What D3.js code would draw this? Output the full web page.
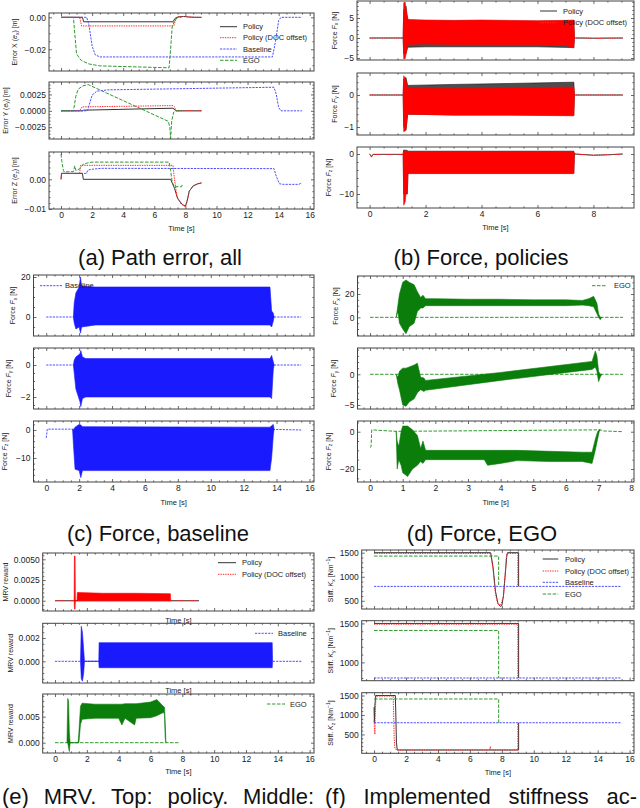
<!DOCTYPE html>
<html><head><meta charset="utf-8">
<script src="https://cdn.jsdelivr.net/npm/d3@7"></script>
<style>body{margin:0;background:#fff}</style>
</head><body>
<script>
// ================= DATA =================
const timeTicks16 = [0,2,4,6,8,10,12,14,16];
const timeTicks9 = [0,2,4,6,8];
const timeTicks8 = [0,1,2,3,4,5,6,7,8];
const legendLabels = {pol:"Policy", doc:"Policy (DOC offset)", base:"Baseline", ego:"EGO"};

// (a) path error  [t, value]
const aXPolicy = [[0,0],[1.38,0],[1.45,-0.0028],[7.2,-0.0028],[7.35,-0.0005],[7.45,0],[7.6,0.0004],[7.9,0.0005],[8.2,0.0002],[8.6,0],[9.05,0]];
const aXDoc = [[0,0],[1.2,0],[1.32,-0.0054],[7.25,-0.0054],[7.4,-0.001],[7.5,0],[7.7,0.0005],[8.0,0.0005],[8.4,0.0001],[9.05,0]];
const aXBase = [[0,0],[1.65,0],[1.8,-0.005],[2.0,-0.018],[2.2,-0.0235],[2.5,-0.0248],[13.6,-0.0248],[13.8,-0.015],[14.0,-0.002],[14.15,0],[15.5,0]];
const aXEgo = [[0,0],[0.8,0],[0.88,-0.01],[1.0,-0.023],[1.3,-0.027],[1.8,-0.0292],[2.5,-0.0304],[6.95,-0.0316],[7.05,-0.02],[7.15,-0.006],[7.3,-0.002],[7.5,-0.0003],[7.75,0]];

const aYPolicy = [[0,0],[1.4,0],[1.45,0.0001],[7.2,0.0004],[7.35,0.0001],[7.45,0],[9.05,0]];
const aYDoc = [[0,0],[1.2,0],[1.35,0.0006],[7.2,0.0008],[7.3,0.0006],[7.4,0],[9.05,0]];
const aYBase = [[0,0],[1.7,0],[1.85,0.0012],[2.0,0.0024],[2.3,0.003],[3,0.0032],[13.7,0.0036],[13.85,0.0025],[14.0,0.0005],[14.15,0],[15.5,0]];
const aYEgo = [[0,0],[0.8,0],[0.95,0.0022],[1.1,0.0033],[1.4,0.0038],[1.75,0.004],[6.9,-0.0016],[7.0,-0.0025],[7.05,-0.0042],[7.12,-0.0015],[7.25,-0.0002],[7.4,0],[7.75,0]];

const aZPolicy = [[0,0],[0.03,0.002],[1.38,0.002],[1.43,0],[7.05,0],[7.3,-0.003],[7.5,-0.0065],[7.8,-0.0085],[8.0,-0.009],[8.1,-0.0075],[8.25,-0.004],[8.5,-0.0022],[8.8,-0.0015],[9.05,-0.0012]];
const aZDoc = [[0,0],[0.03,0.002],[1.2,0.002],[1.25,0.0047],[7.2,0.0047],[7.3,0.0],[7.45,-0.0055],[7.7,-0.0082],[8.0,-0.0092],[8.1,-0.0078],[8.25,-0.004],[8.5,-0.0022],[8.8,-0.0015],[9.05,-0.0012]];
const aZBase = [[0,0.002],[1.65,0.002],[1.7,0.0029],[1.8,0.0032],[2.0,0.0034],[2.6,0.0037],[13.7,0.0036],[13.85,0.001],[14.05,-0.0015],[14.3,-0.0017],[15.3,-0.0017],[15.5,-0.0012]];
const aZEgo = [[0,0.0085],[0.05,0.006],[0.15,0.003],[0.2,0.0025],[0.8,0.0026],[0.88,0.0045],[0.95,0.003],[1.2,0.0035],[1.4,0.005],[1.7,0.0055],[2.0,0.0058],[6.95,0.0058],[7.05,0.003],[7.15,-0.001],[7.3,-0.0025],[7.75,-0.0025],[7.8,-0.0018]];

// (b) force, policies: lines [t,v], bands [t,lo,hi]
const bFxPolicyLine = [[0,0],[1.2,0],[7.32,0],[8,-0.05],[9.05,0]];
const bFxDocLine = [[0,0],[1.2,0],[7.32,0],[7.6,0.05],[8,-0.1],[9.05,0]];
const bFxPolicyBand = [[1.2,0,0],[1.22,-4,7],[1.3,-4,8],[1.36,-2.3,4.5],[2,-2.2,4.3],[4,-2.2,4.3],[6,-2.2,4.2],[7.3,-2.4,4.3],[7.32,0,0]];
const bFxDocBand = [[1.2,0,0],[1.22,-5.2,8.8],[1.27,-5.2,9],[1.33,-3,6],[1.38,-1.6,4.6],[2,-1.5,4.5],[3,-1.6,4.4],[4,-1.6,4.5],[5,-1.7,4.4],[6,-1.7,4.3],[7,-1.8,4.4],[7.3,-2.5,4.5],[7.32,0,0]];
const bFyPolicyLine = [[0,0],[1.2,0],[7.32,0],[9.05,0]];
const bFyDocLine = [[0,0],[1.2,0],[7.32,0],[9.05,0]];
const bFyPolicyBand = [[1.2,0,0],[1.22,-1.0,0.5],[1.3,-1.1,0.55],[1.36,-0.6,0.3],[3,-0.62,0.33],[5,-0.62,0.36],[7.3,-0.63,0.4],[7.32,0,0]];
const bFyDocBand = [[1.2,0,0],[1.22,-1.15,0.6],[1.3,-1.1,0.45],[1.36,-0.6,0.22],[3,-0.63,0.2],[5,-0.63,0.22],[7.3,-0.65,0.25],[7.32,0,0]];
const bFzPolicyLine = [[0,0],[0.03,-0.2],[0.07,-0.7],[0.12,-0.1],[1.2,-0.1],[7.32,0],[8,-0.3],[8.5,-0.2],[9.05,0]];
const bFzDocLine = [[0,0],[0.03,-0.3],[0.07,-0.8],[0.12,-0.1],[1.2,-0.1],[7.32,0],[8,-0.3],[8.5,-0.2],[9.05,0]];
const bFzPolicyBand = [[1.2,0,0],[1.22,-10,1],[1.35,-10,0.9],[1.37,-4.8,0.7],[7.3,-4.8,0.7],[7.32,0,0]];
const bFzDocBand = [[1.2,0,0],[1.22,-12.8,1],[1.27,-12,0.5],[1.3,-10,0.5],[1.35,-9,0.5],[1.37,-4.9,0.5],[7.3,-4.9,0.5],[7.32,0,0]];

// (c) force, baseline
const cFxLine = [[0,0],[1.65,0],[13.85,0],[15.5,0]];
const cFxBand = [[1.65,0,0],[1.7,-3,7],[1.8,-6,12],[2.0,-5,15],[2.08,-8,20],[2.15,-5,15.5],[3,-4,15],[13.6,-4,15],[13.7,-5,3],[13.8,-2,2],[13.85,0,0]];
const cFyLine = [[0,0],[1.65,0],[13.85,0],[15.5,0]];
const cFyBand = [[1.65,0,0],[1.7,-0.5,0.3],[1.8,-1.5,0.5],[2.05,-2.3,0.7],[2.1,-2.6,0.9],[2.2,-2.1,0.5],[2.4,-2.0,0.4],[13.6,-2.0,0.4],[13.7,-2.1,0.6],[13.8,-0.3,0.2],[13.85,0,0]];
const cFzLine = [[0,-2.8],[0.04,-1],[0.06,0.3],[1.6,0.3],[13.9,0.2],[15.5,0]];
const cFzBand = [[1.6,0.3,0.3],[1.65,-5,0],[1.75,-14,1],[2.0,-14.5,2],[2.1,-17,1.8],[2.2,-14.5,1.2],[13.6,-14.5,1.0],[13.7,-10,1.5],[13.8,-2,2],[13.85,0.3,0.3]];

// (d) force, EGO
const dFxLine = [[0,0],[0.8,0],[7.1,0],[7.75,0]];
const dFxBand = [[0.8,0,0],[0.85,5,10],[0.9,-5,20],[1.0,-10,30],[1.1,-14,32],[1.2,-8,30],[1.35,-5,28],[1.45,5,22],[1.55,8,17],[1.62,8,19],[1.7,10,16],[2,10,16],[3,10,15.5],[4,10,15.5],[5,10,15],[6,10,15],[6.5,10.5,14.5],[6.7,10,16],[6.85,9,18],[6.95,3,12],[7.0,0,3],[7.05,-2,0],[7.1,0,0]];
const dFyLine = [[0,0],[0.8,0],[7.1,0],[7.75,0]];
const dFyBand = [[0.8,0,0],[0.85,-1.5,-0.5],[0.9,-2.5,0.5],[1.0,-5,1],[1.1,-5.2,1],[1.2,-4.5,1.2],[1.35,-4,1.5],[1.45,-3,1.8],[1.55,-2.5,-0.5],[1.65,-2.8,-0.6],[1.7,-2.6,-1.0],[4.0,-1.0,0.3],[6.8,0.8,2.1],[6.9,1.2,3.8],[6.95,0.5,3.0],[7.0,-1.2,0.5],[7.05,-0.5,0],[7.1,0,0]];
const dFzLine = [[0,-8.5],[0.03,-8],[0.05,1],[0.4,0.6],[0.8,0.2],[7.05,1],[7.15,0.4],[7.75,0]];
const dFzBand = [[0.8,0.2,0.2],[0.83,-20,-5],[0.88,-15,-8],[0.95,-18,0],[1.0,-22,3],[1.15,-24,3],[1.3,-20,1],[1.45,-18,-2],[1.55,-16,-9],[1.62,-17,-5],[1.7,-15,-10],[3.5,-15,-10],[3.6,-18,-10],[4.0,-17,-10],[4.5,-15.5,-10],[5.5,-16,-10.5],[6.5,-16,-11],[6.8,-17,-11],[6.9,-10,-4],[6.97,-4,0],[7.02,0,1],[7.05,1,1]];

// (e) MRV reward
const eTopPolicyLine = [[0,0],[9.05,0]];
const eTopDocLine = [[0,0],[9.0,0]];
const eTopDocBand = [[1.2,0,0],[1.22,-0.001,0.0054],[1.26,-0.001,0.0054],[1.28,0,0],[1.38,0,0],[1.4,0,0.001],[3,0,0.0009],[5,0,0.0009],[7.25,0,0.00085],[7.27,0,0]];
const eMidBaseLine = [[0,0],[15.5,0]];
const eMidBaseBand = [[1.6,0,0],[1.65,-0.0015,0.003],[1.72,-0.0017,0.0025],[1.8,-0.001,0.001],[1.85,0,0],[2.75,0,0],[2.77,-0.00055,0.0016],[13.65,-0.00055,0.0016],[13.67,0,0]];
const eBotEgoLine = [[0,0],[7.8,0]];
const eBotEgoBand = [[0.75,0,0],[0.8,0,0.0085],[0.85,-0.001,0.008],[0.9,-0.0017,0.002],[0.95,0,0],[1.45,0,0],[1.5,0,0.002],[1.6,0.0035,0.007],[1.7,0.0045,0.0076],[2.5,0.0047,0.0074],[4,0.0047,0.0074],[4.2,0.0034,0.0074],[4.4,0.0047,0.0075],[5.0,0.0034,0.0075],[5.1,0.0047,0.0075],[6.0,0.0048,0.0078],[6.4,0.0052,0.0083],[6.8,0.0058,0.007],[6.88,0.0055,0.0068],[6.92,0.001,0.004],[6.97,0,0]];

// (f) stiffness
const fKxPolicy = [[0,1500],[7.3,1500],[7.45,1200],[7.6,700],[7.75,450],[7.9,385],[8.0,400],[8.1,600],[8.2,1000],[8.3,1400],[8.35,1500],[9.05,1500],[9.05,800]];
const fKxDoc = [[0,1485],[7.3,1485],[7.45,1150],[7.6,650],[7.75,430],[7.95,420],[8.1,600],[8.2,1000],[8.28,1400],[8.32,1485],[9.0,1485],[9.0,800]];
const fKxBase = [[0,800],[15.5,800]];
const fKxEgo = [[0,1430],[7.8,1430],[7.8,800]];
const fKyPolicy = [[0,1500],[9.05,1500],[9.05,800]];
const fKyDoc = [[0,1490],[9.0,1490],[9.0,800]];
const fKyBase = [[0,800],[15.5,800]];
const fKyEgo = [[0,1410],[7.8,1410],[7.8,800]];
const fKzPolicy = [[0,1200],[0.02,800],[0.05,1250],[0.1,1500],[1.33,1500],[1.36,1050],[1.4,300],[1.45,100],[9.05,100],[9.05,800]];
const fKzDoc = [[0,850],[0.02,700],[0.05,500],[0.08,1100],[0.12,1485],[1.2,1485],[1.26,400],[1.3,150],[1.35,130],[1.4,100],[7.25,100],[7.28,190],[7.32,100],[9.0,100],[9.0,800]];
const fKzBase = [[0,800],[15.5,800]];
const fKzEgo = [[0,1410],[7.8,1410],[7.8,800]];

// tick values
const aXTicks=[-0.02,0], aYTicks=[-0.0025,0,0.0025], aZTicks=[-0.01,0];
const bFxTicks=[-5,0,5], bFyTicks=[-1,0], bFzTicks=[-10,0];
const cFxTicks=[0,20], cFyTicks=[-2,0], cFzTicks=[-10,0];
const dFxTicks=[0,20], dFyTicks=[-5,0], dFzTicks=[-20,0];
const eTopTicks=[0,0.0025,0.005], eMidTicks=[0,0.002], eBotTicks=[0,0.005];
const fKxTicks=[500,1000,1500], fKyTicks=[1000,1500], fKzTicks=[500,1000,1500];

// ================= STYLE =================
const FONT = "'Liberation Sans', Arial, Helvetica, sans-serif";
const ST = {
  pol:  {color:"#333333", dash:null, band:"#111111", bandOp:0.75},
  doc:  {color:"#ff2a2a", dash:"1.4,1", band:"#ff0000", bandOp:1},
  base: {color:"#4d4dff", dash:"2.2,1.1", band:"#1a1aff", bandOp:1},
  ego:  {color:"#2e9a2e", dash:"3.5,1.5", band:"#0b7d0b", bandOp:1}
};
const FRAME = "#444";

const svg = d3.select("body").append("svg").attr("width",640).attr("height",808)
  .style("font-family", FONT);
let clipN = 0;

function minorTicks(major, dom) {
  const step = Math.abs(major[1]-major[0]);
  const e = Math.pow(10, Math.floor(Math.log10(step)+1e-9));
  const m = step/e;
  const nd = [1,2.5,5,10].some(v=>Math.abs(v-m)<1e-6) ? 5 : 4;
  const ms = step/nd;
  const lo = Math.min(...dom), hi = Math.max(...dom);
  const out = [];
  for (let k = Math.ceil(lo/ms-1e-9); k*ms <= hi+1e-12; k++) {
    const v = k*ms;
    if (!major.some(M=>Math.abs(M-v) < ms*1e-3)) out.push(v);
  }
  return out;
}
function majorAll(major, dom) {
  const step = Math.abs(major[1]-major[0]);
  const lo = Math.min(...dom), hi = Math.max(...dom);
  const out=[];
  for (let k=Math.ceil(lo/step-1e-9); k*step<=hi+1e-12; k++) out.push(k*step);
  return out;
}

function styleAxis(g) {
  g.select(".domain").remove();
  g.selectAll(".tick line").attr("stroke", FRAME).attr("stroke-width",0.8);
  g.selectAll(".tick text").attr("font-size",8.5).attr("fill","#222").attr("font-family",FONT);
}

function ylabel(parts, x, yc) {
  const t = svg.append("text").attr("transform",`translate(${x},${yc}) rotate(-90)`)
    .attr("text-anchor","middle").attr("font-size",7).attr("fill","#222");
  let shift = 0;
  parts.forEach(([s,st])=>{
    const ts = t.append("tspan").text(s);
    let target = 0;
    if (st==="i") ts.attr("font-style","italic");
    if (st==="sub") { ts.attr("font-size",5); target = 1.8; }
    if (st==="sup") { ts.attr("font-size",5); target = -3; }
    ts.attr("dy", target-shift); shift = target;
  });
}

function panel(p) {
  const x = d3.scaleLinear().domain(p.xd).range([p.l,p.r]);
  const y = d3.scaleLinear().domain(p.yd).range([p.b,p.t]);
  const id = "clip"+(clipN++);
  svg.append("clipPath").attr("id",id).append("rect")
    .attr("x",p.l).attr("y",p.t).attr("width",p.r-p.l).attr("height",p.b-p.t);
  const plot = svg.append("g").attr("clip-path",`url(#${id})`);
  const area = d3.area().x(d=>x(d[0])).y0(d=>y(d[1])).y1(d=>y(d[2]));
  const line = d3.line().x(d=>x(d[0])).y(d=>y(d[1]));
  p.series.forEach(s=>{
    const st = ST[s.k];
    if (s.line) plot.append("path").datum(s.line).attr("d",line).attr("fill","none")
      .attr("stroke",st.color).attr("stroke-width",1).attr("stroke-dasharray",st.dash);
    if (s.band) plot.append("path").datum(s.band).attr("d",area).attr("fill",st.band)
      .attr("fill-opacity",st.bandOp)
      .attr("stroke",st.band).attr("stroke-width",0.6).attr("stroke-linejoin","round");
  });
  // axes
  const xMaj = p.xt, xMin = minorTicks(p.xt, p.xd);
  const yMaj = majorAll(p.yt, p.yd), yMin = minorTicks(p.yt, p.yd);
  const g = svg.append("g");
  g.append("g").attr("transform",`translate(0,${p.b})`)
    .call(d3.axisBottom(x).tickValues(xMaj).tickSize(-3).tickPadding(3)
      .tickFormat(p.xlabels ? d3.format("d") : "")).call(styleAxis);
  g.append("g").attr("transform",`translate(0,${p.b})`)
    .call(d3.axisBottom(x).tickValues(xMin).tickSize(-1.6).tickFormat("")).call(styleAxis);
  g.append("g").attr("transform",`translate(0,${p.t})`)
    .call(d3.axisTop(x).tickValues(xMaj).tickSize(-3).tickFormat("")).call(styleAxis);
  g.append("g").attr("transform",`translate(0,${p.t})`)
    .call(d3.axisTop(x).tickValues(xMin).tickSize(-1.6).tickFormat("")).call(styleAxis);
  g.append("g").attr("transform",`translate(${p.l},0)`)
    .call(d3.axisLeft(y).tickValues(yMaj).tickSize(-3).tickPadding(3).tickFormat(d3.format(p.yf))).call(styleAxis);
  g.append("g").attr("transform",`translate(${p.l},0)`)
    .call(d3.axisLeft(y).tickValues(yMin).tickSize(-1.6).tickFormat("")).call(styleAxis);
  g.append("g").attr("transform",`translate(${p.r},0)`)
    .call(d3.axisRight(y).tickValues(yMaj).tickSize(-3).tickFormat("")).call(styleAxis);
  g.append("g").attr("transform",`translate(${p.r},0)`)
    .call(d3.axisRight(y).tickValues(yMin).tickSize(-1.6).tickFormat("")).call(styleAxis);
  g.append("rect").attr("x",p.l).attr("y",p.t).attr("width",p.r-p.l).attr("height",p.b-p.t)
    .attr("fill","none").attr("stroke",FRAME).attr("stroke-width",1);
  if (p.ylab) ylabel(p.ylab, p.ylx, (p.t+p.b)/2);
  if (p.timeY) svg.append("text").attr("x",(p.l+p.r)/2).attr("y",p.timeY).attr("text-anchor","middle")
    .attr("font-size",7.5).attr("fill","#222").text("Time [s]");
}

function legend(keys, x1, x2, tx, ys) {
  keys.forEach((k,i)=>{
    const st = ST[k];
    svg.append("line").attr("x1",x1).attr("x2",x2).attr("y1",ys[i]).attr("y2",ys[i])
      .attr("stroke",st.color).attr("stroke-width",1).attr("stroke-dasharray",st.dash);
    svg.append("text").attr("x",tx).attr("y",ys[i]).attr("dy","0.35em").attr("font-size",7.5)
      .attr("fill","#222").text(legendLabels[k]);
  });
}

const TD16 = [-0.775,16.275];
const labErr = c => [["Error "+c+" ("],["e","i"],[c.toLowerCase(),"sub"],[") [m]"]];
const labF = c => [["Force "],["F","i"],[c,"sub"],[" [N]"]];
const labK = c => [["Stiff. "],["K","i"],[c,"sub"],[" [Nm"],["−1","sup"],["]"]];

// ---- (a)
panel({l:49,r:314,t:13,b:71,xd:TD16,yd:[-0.0336,0.0027],xt:timeTicks16,yt:aXTicks,yf:".2f",ylab:labErr("X"),ylx:17,
  series:[{k:"pol",line:aXPolicy},{k:"doc",line:aXDoc},{k:"base",line:aXBase},{k:"ego",line:aXEgo}]});
panel({l:49,r:314,t:82,b:139,xd:TD16,yd:[-0.0043,0.0044],xt:timeTicks16,yt:aYTicks,yf:".4f",ylab:labErr("Y"),ylx:7.5,
  series:[{k:"pol",line:aYPolicy},{k:"doc",line:aYDoc},{k:"base",line:aYBase},{k:"ego",line:aYEgo}]});
panel({l:49,r:314,t:152,b:209,xd:TD16,yd:[-0.0100,0.0092],xt:timeTicks16,yt:aZTicks,yf:".2f",ylab:labErr("Z"),ylx:17,
  xlabels:true,timeY:231,
  series:[{k:"pol",line:aZPolicy},{k:"doc",line:aZDoc},{k:"base",line:aZBase},{k:"ego",line:aZEgo}]});
legend(["pol","doc","base","ego"],220,237,243,[26.7,37.7,49,60.3]);

// ---- (b)
const TD9=[-0.45,9.45];
panel({l:357,r:634,t:1,b:60,xd:TD9,yd:[-5.5,9.25],xt:timeTicks9,yt:bFxTicks,yf:"d",ylab:labF("x"),ylx:336.5,
  series:[{k:"pol",line:bFxPolicyLine,band:bFxPolicyBand},{k:"doc",line:bFxDocLine,band:bFxDocBand}]});
panel({l:357,r:634,t:73,b:135,xd:TD9,yd:[-1.25,0.6875],xt:timeTicks9,yt:bFyTicks,yf:"d",ylab:labF("y"),ylx:336.5,
  series:[{k:"pol",line:bFyPolicyLine,band:bFyPolicyBand},{k:"doc",line:bFyDocLine,band:bFyDocBand}]});
panel({l:357,r:634,t:147,b:208,xd:TD9,yd:[-13.5,1.75],xt:timeTicks9,yt:bFzTicks,yf:"d",ylab:labF("z"),ylx:330.5,
  xlabels:true,timeY:230,
  series:[{k:"pol",line:bFzPolicyLine,band:bFzPolicyBand},{k:"doc",line:bFzDocLine,band:bFzDocBand}]});
legend(["pol","doc"],540,557,563,[11,22.7]);

// ---- (c)
panel({l:33.5,r:314,t:275,b:336,xd:TD16,yd:[-9.5,21],xt:timeTicks16,yt:cFxTicks,yf:"d",ylab:labF("x"),ylx:15,
  series:[{k:"base",line:cFxLine,band:cFxBand}]});
panel({l:33.5,r:314,t:348,b:409,xd:TD16,yd:[-2.75,1.0625],xt:timeTicks16,yt:cFyTicks,yf:"d",ylab:labF("y"),ylx:10.5,
  series:[{k:"base",line:cFyLine,band:cFyBand}]});
panel({l:33.5,r:314,t:421,b:482,xd:TD16,yd:[-18.57,3.21],xt:timeTicks16,yt:cFzTicks,yf:"d",ylab:labF("z"),ylx:6.5,
  xlabels:true,timeY:505,
  series:[{k:"base",line:cFzLine,band:cFzBand}]});
legend(["base"],40,62,65,[285.7]);

// ---- (d)
const TD8=[-0.385,8.085];
panel({l:357.5,r:634,t:276,b:336,xd:TD8,yd:[-16,35.45],xt:timeTicks8,yt:dFxTicks,yf:"d",ylab:labF("x"),ylx:338,
  series:[{k:"ego",line:dFxLine,band:dFxBand}]});
panel({l:357.5,r:634,t:348,b:409,xd:TD8,yd:[-5.65,4.28],xt:timeTicks8,yt:dFyTicks,yf:"d",ylab:labF("y"),ylx:336,
  series:[{k:"ego",line:dFyLine,band:dFyBand}]});
panel({l:357.5,r:634,t:421,b:482,xd:TD8,yd:[-26.97,5.74],xt:timeTicks8,yt:dFzTicks,yf:"d",ylab:labF("z"),ylx:330.5,
  xlabels:true,timeY:505,
  series:[{k:"ego",line:dFzLine,band:dFzBand}]});
legend(["ego"],592,607,614,[285.7]);

// ---- (e)
panel({l:42.7,r:314,t:553,b:611,xd:TD16,yd:[-0.00124,0.00576],xt:timeTicks16,yt:eTopTicks,yf:".4f",ylab:[["MRV reward"]],ylx:7.5,
  timeY:623,
  series:[{k:"pol",line:eTopPolicyLine},{k:"doc",line:eTopDocLine,band:eTopDocBand}]});
panel({l:42.7,r:314,t:623.3,b:683,xd:TD16,yd:[-0.00186,0.00326],xt:timeTicks16,yt:eMidTicks,yf:".3f",ylab:[["MRV reward"]],ylx:12.5,
  timeY:693,
  series:[{k:"base",line:eMidBaseLine,band:eMidBaseBand}]});
panel({l:42.7,r:314,t:694,b:753,xd:TD16,yd:[-0.00198,0.00936],xt:timeTicks16,yt:eBotTicks,yf:".3f",ylab:[["MRV reward"]],ylx:12.5,
  xlabels:true,timeY:773.5,
  series:[{k:"ego",line:eBotEgoLine,band:eBotEgoBand}]});
legend(["pol","doc"],218,236,242,[562.7,574.3]);
legend(["base"],255,273,278,[633.3]);
legend(["ego"],267,285,290,[704]);

// ---- (f)
panel({l:361.7,r:634,t:550,b:609,xd:TD16,yd:[330,1556],xt:timeTicks16,yt:fKxTicks,yf:"d",ylab:labK("x"),ylx:333,
  series:[{k:"pol",line:fKxPolicy},{k:"doc",line:fKxDoc},{k:"base",line:fKxBase},{k:"ego",line:fKxEgo}]});
panel({l:361.7,r:634,t:620.7,b:680.7,xd:TD16,yd:[765,1535],xt:timeTicks16,yt:fKyTicks,yf:"d",ylab:labK("y"),ylx:333,
  series:[{k:"pol",line:fKyPolicy},{k:"doc",line:fKyDoc},{k:"base",line:fKyBase},{k:"ego",line:fKyEgo}]});
panel({l:361.7,r:634,t:692.7,b:753.3,xd:TD16,yd:[15,1572],xt:timeTicks16,yt:fKzTicks,yf:"d",ylab:labK("z"),ylx:333,
  xlabels:true,timeY:774.5,
  series:[{k:"pol",line:fKzPolicy},{k:"doc",line:fKzDoc},{k:"base",line:fKzBase},{k:"ego",line:fKzEgo}]});
legend(["pol","doc","base","ego"],542.7,558.3,565,[559,571,582.3,594]);

// ---- captions
const CAP = 22;
function caption(txt, cx, by) {
  svg.append("text").attr("x",cx).attr("y",by).attr("text-anchor","middle").attr("font-size",CAP)
    .attr("fill","#111").text(txt);
}
caption("(a) Path error, all",160,264.5);
caption("(b) Force, policies",481,264.5);
caption("(c) Force, baseline",158,540.5);
caption("(d) Force, EGO",482,540.5);
function justified(words, x0, x1, by) {
  const nodes = words.map(w=>svg.append("text").attr("y",by).attr("font-size",CAP).attr("fill","#111").text(w));
  const widths = nodes.map(n=>n.node().getComputedTextLength());
  const gap = (x1-x0-d3.sum(widths))/(words.length-1);
  let x = x0;
  nodes.forEach((n,i)=>{ n.attr("x",x); x += widths[i]+gap; });
}
justified(["(e)","MRV.","Top:","policy.","Middle:"],2,314,804);
justified(["(f)","Implemented","stiffness","ac-"],325,637,804);
</script>
</body></html>
